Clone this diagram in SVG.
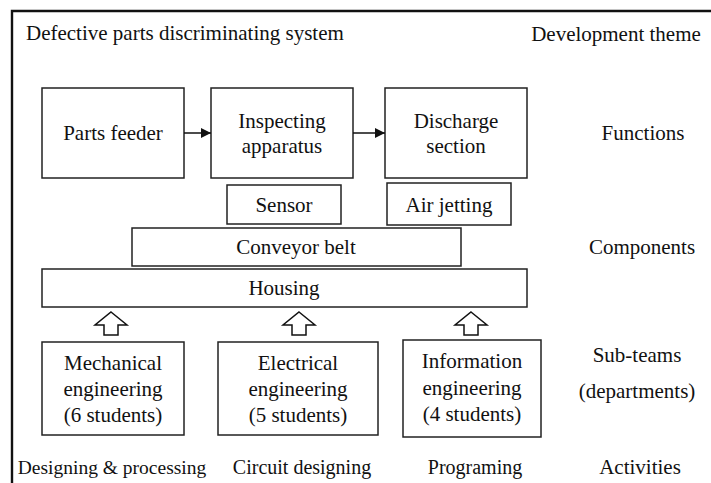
<svg xmlns="http://www.w3.org/2000/svg" width="711" height="483" viewBox="0 0 711 483">
<defs>
<marker id="ah" viewBox="0 0 10 10" refX="10" refY="5" markerWidth="11" markerHeight="10" markerUnits="userSpaceOnUse" orient="auto">
<path d="M0,0 L10,5 L0,10 z" fill="#111"/>
</marker>
</defs>
<rect width="711" height="483" fill="#fff"/>
<g id="frame">
<path d="M12,483 V11 H711" fill="none" stroke="#111" stroke-width="2.4"/>
</g>
<g id="labels" font-size="21" fill="#111" text-anchor="middle">
<text font-family="Liberation Serif" x="26" y="40" text-anchor="start">Defective parts discriminating system</text>
<text font-family="Liberation Serif" x="616" y="41">Development theme</text>
<text font-family="Liberation Serif" x="643" y="140">Functions</text>
<text font-family="Liberation Serif" x="642" y="254">Components</text>
<text font-family="Liberation Serif" x="637" y="362">Sub-teams</text>
<text font-family="Liberation Serif" x="637" y="398">(departments)</text>
<text font-family="Liberation Serif" x="640" y="474">Activities</text>
<text font-family="Liberation Serif" x="112" y="474" font-size="19.5">Designing &amp; processing</text>
<text font-family="Liberation Serif" x="302" y="474" font-size="20">Circuit designing</text>
<text font-family="Liberation Serif" x="475" y="474" font-size="20">Programing</text>
</g>
<g id="nodes" font-size="21" fill="#111" text-anchor="middle">
<g id="parts-feeder">
<rect x="42" y="88" width="142" height="90" fill="#fff" stroke="#222" stroke-width="1.5"/>
<text font-family="Liberation Serif" x="113" y="140">Parts feeder</text>
</g>
<g id="inspecting-apparatus">
<rect x="211" y="88" width="142" height="90" fill="#fff" stroke="#222" stroke-width="1.5"/>
<text font-family="Liberation Serif" x="282" y="128">Inspecting</text>
<text font-family="Liberation Serif" x="282" y="153">apparatus</text>
</g>
<g id="discharge-section">
<rect x="385" y="88" width="142" height="90" fill="#fff" stroke="#222" stroke-width="1.5"/>
<text font-family="Liberation Serif" x="456" y="128">Discharge</text>
<text font-family="Liberation Serif" x="456" y="153">section</text>
</g>
<g id="sensor">
<rect x="227" y="185" width="114" height="39" fill="#fff" stroke="#222" stroke-width="1.5"/>
<text font-family="Liberation Serif" x="284" y="212">Sensor</text>
</g>
<g id="air-jetting">
<rect x="387" y="183" width="124" height="42" fill="#fff" stroke="#222" stroke-width="1.5"/>
<text font-family="Liberation Serif" x="449" y="212">Air jetting</text>
</g>
<g id="conveyor-belt">
<rect x="132" y="228" width="329" height="38" fill="#fff" stroke="#222" stroke-width="1.5"/>
<text font-family="Liberation Serif" x="296" y="254">Conveyor belt</text>
</g>
<g id="housing">
<rect x="42" y="269" width="485" height="38" fill="#fff" stroke="#222" stroke-width="1.5"/>
<text font-family="Liberation Serif" x="284" y="295">Housing</text>
</g>
<g id="mechanical">
<rect x="42" y="342" width="142" height="93" fill="#fff" stroke="#222" stroke-width="1.5"/>
<text font-family="Liberation Serif" x="113" y="370">Mechanical</text>
<text font-family="Liberation Serif" x="113" y="396">engineering</text>
<text font-family="Liberation Serif" x="113" y="422">(6 students)</text>
</g>
<g id="electrical">
<rect x="218" y="342" width="160" height="93" fill="#fff" stroke="#222" stroke-width="1.5"/>
<text font-family="Liberation Serif" x="298" y="370">Electrical</text>
<text font-family="Liberation Serif" x="298" y="396">engineering</text>
<text font-family="Liberation Serif" x="298" y="422">(5 students)</text>
</g>
<g id="information">
<rect x="403" y="340" width="138" height="97" fill="#fff" stroke="#222" stroke-width="1.5"/>
<text font-family="Liberation Serif" x="472" y="368">Information</text>
<text font-family="Liberation Serif" x="472" y="395">engineering</text>
<text font-family="Liberation Serif" x="472" y="421">(4 students)</text>
</g>
</g>
<g id="connectors" stroke="#111" stroke-width="1.5">
<line x1="184" y1="133" x2="211" y2="133" fill="none" marker-end="url(#ah)"/>
<line x1="353" y1="133" x2="385" y2="133" fill="none" marker-end="url(#ah)"/>
<path fill="#fff" d="M111,312 L127,325 L118,325 L118,335 L104,335 L104,325 L95,325 Z"/>
<path fill="#fff" d="M299,312 L315,325 L306,325 L306,335 L292,335 L292,325 L283,325 Z"/>
<path fill="#fff" d="M471,312 L487,325 L478,325 L478,335 L464,335 L464,325 L455,325 Z"/>
</g>
</svg>
